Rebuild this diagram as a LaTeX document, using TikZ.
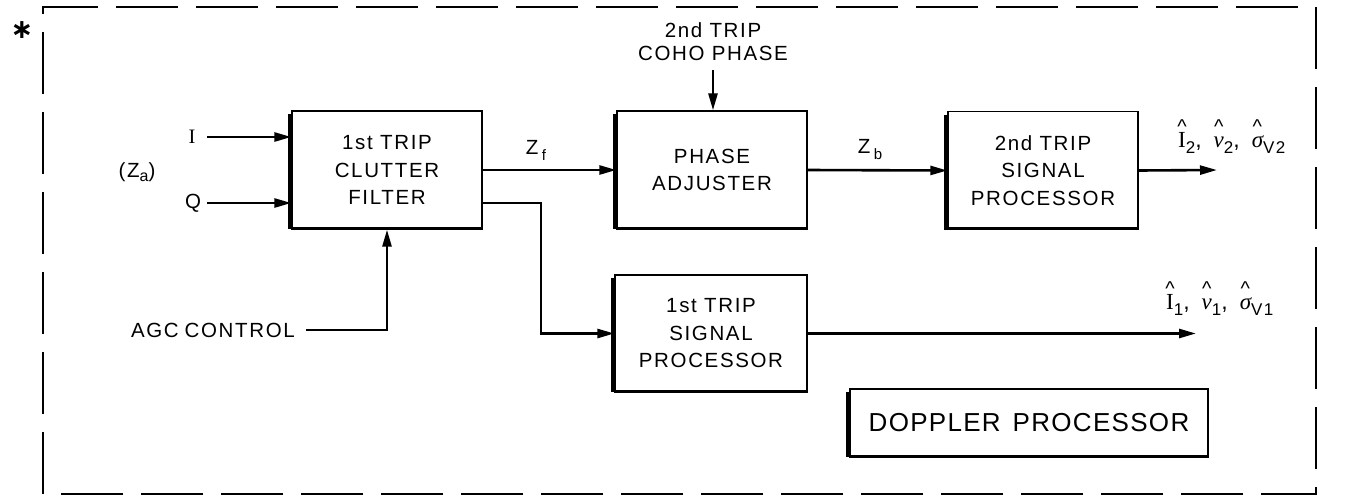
\documentclass[tikz,border=0pt]{standalone}
\usepackage{fontspec}
\setmainfont{Liberation Sans}[LetterSpace=8]
\newfontfamily\bigfont{Liberation Sans}[LetterSpace=5]
\newfontfamily\serif{Liberation Serif}
\newfontfamily\djv{DejaVu Sans}
\usetikzlibrary{arrows.meta}
\tikzset{
  blk/.style={draw, line width=1.3pt, minimum width=190pt, minimum height=118pt, align=center,
    font=\fontsize{20.5}{27.5}\selectfont, inner sep=0pt},
  conn/.style={line width=2.6pt},
  arr/.style={conn, -{Triangle[length=17pt,width=9pt]}},
  lbl/.style={font=\fontsize{20.5}{23}\selectfont, inner sep=0pt, align=center},
  outlbl/.style={font=\fontsize{23}{23}\selectfont, inner sep=0pt, anchor=west},
  shadowline/.style={line width=2.8pt}
}
\newcommand{\boxshadow}[1]{%
  \draw[shadowline] ([xshift=-1.6pt,yshift=-4pt]#1.north west) -- ([xshift=-1.6pt,yshift=1.6pt]#1.south west) -- ([xshift=-2pt,yshift=1.6pt]#1.south east);}
\newcommand{\hatted}[1]{\ooalign{#1\cr\hidewidth\raisebox{14pt}{\fontsize{20}{20}\selectfont\^{}}\hidewidth\cr}}
\newcommand{\sbs}[1]{\raisebox{-6pt}{\fontsize{17}{17}\selectfont #1}}
\begin{document}
\begin{tikzpicture}[x=1pt,y=-1pt]
\useasboundingbox (0,0) rectangle (1345,499);
% frame
\draw[line width=1.8pt, dash pattern=on 62pt off 18pt] (43,494) -- (43,7) -- (1316,7) -- (1316,494) -- cycle;
\node[inner sep=0pt, font=\djv\bfseries\fontsize{27}{27}\selectfont] (star) at (22,30) {∗};
% boxes
\node[blk] (cf) at (387,170) {1st TRIP\\CLUTTER\\FILTER};
\node[blk] (pa) at (712,170) {PHASE\\ADJUSTER};
\node[blk] (sp2) at (1043,170.5) {2nd TRIP\\SIGNAL\\PROCESSOR};
\node[blk, minimum width=192pt, minimum height=117pt] (sp1) at (711,333.5) {1st TRIP\\SIGNAL\\PROCESSOR};
\node[draw, line width=1.3pt, minimum width=358pt, minimum height=68pt, inner sep=0pt,
  font=\bigfont\fontsize{26}{26}\selectfont] (dp) at (1029,423) {DOPPLER\hspace{12pt}PROCESSOR};
\boxshadow{cf}
\boxshadow{pa}
\boxshadow{sp2}
\boxshadow{sp1}
\boxshadow{dp}
% inputs
\node[lbl] (ilbl) at (192,137) {\serif I};
\node[lbl] (qlbl) at (193,203) {Q};
\node[lbl] (za) at (137,172) {(Z\raisebox{-4pt}{\fontsize{16}{16}\selectfont a})};
\coordinate (iin) at (207,137);
\coordinate (qin) at (207,203);
\draw[arr] (iin) -- (iin -| cf.west);
\draw[arr] (qin) -- (qin -| cf.west);
% AGC
\node[lbl, anchor=east] (agc) at (295,330) {AGC\hspace{6pt}CONTROL};
\coordinate (agcs) at (306,330);
\draw[arr] (agcs) -| (cf.south);
% coho
\node[lbl] (coho) at (713,41.5) {2nd TRIP\\COHO PHASE};
\coordinate (cohos) at (713,70);
\draw[arr] (cohos) -- (cohos |- pa.north);
% Zf
\draw[arr] (cf.east) -- (pa.west);
\node[lbl] (zf) at (536,150) {Z\,\raisebox{-6pt}{\fontsize{15}{15}\selectfont f}};
% branch
\coordinate (br) at (541,203);
\draw[arr] (qin -| cf.east) -- (br) -- (br |- sp1.west) -- (sp1.west);
% Zb
\draw[arr] (pa.east) -- (sp2.west);
\node[lbl] (zb) at (870,150) {Z\,\raisebox{-6pt}{\fontsize{15}{15}\selectfont b}};
% outputs
\coordinate (o2) at (1217,170);
\draw[arr] (sp2.east) -- (o2);
\node[outlbl] (out2) at (1178,143) {\hatted{\serif I}\sbs{2},\hspace{12pt}\hatted{\serif\itshape ν}\sbs{2},\hspace{12pt}\hatted{\serif\itshape σ}\sbs{V2}};
\coordinate (o1) at (1196,333.5);
\draw[arr] (sp1.east) -- (o1);
\node[outlbl] (out1) at (1166,305) {\hatted{\serif I}\sbs{1},\hspace{12pt}\hatted{\serif\itshape ν}\sbs{1},\hspace{12pt}\hatted{\serif\itshape σ}\sbs{V1}};
\end{tikzpicture}
\end{document}
